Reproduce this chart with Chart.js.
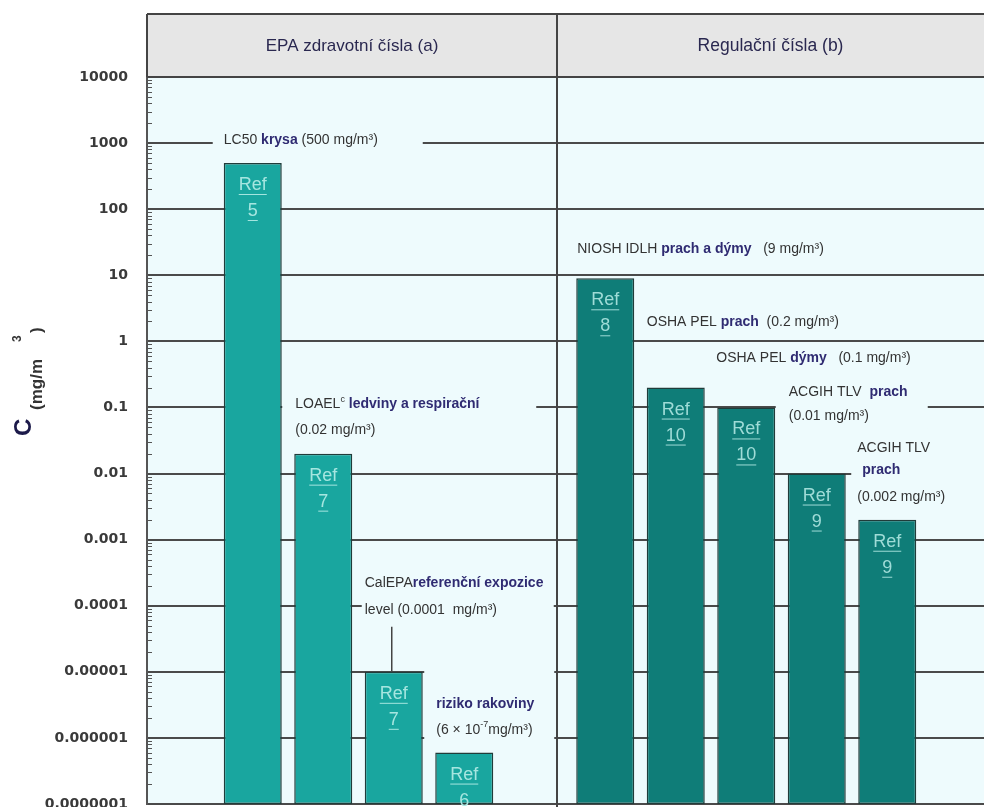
<!DOCTYPE html>
<html>
<head>
<meta charset="utf-8">
<script src="https://cdn.jsdelivr.net/npm/chart.js@4.4.1/dist/chart.umd.min.js"></script>
<style>
html,body{margin:0;padding:0;background:#fff;overflow:hidden;}
#wrap{width:993px;height:807px;}
</style>
</head>
<body>
<div id="wrap"><canvas id="graf" width="993" height="807"></canvas></div>
<script>

/* data */
let slots = ["", "LC50", "LOAEL", "CalEPA", "riziko", "", "NIOSH IDLH", "OSHA PEL prach", "OSHA PEL dýmy", "ACGIH TLV prach", "ACGIH TLV prach 2", ""];
let values = [null, 500, 0.02, 0.00001, 0.0000006, null, 9, 0.2, 0.1, 0.01, 0.002, null];
let refNumbers = ["", "5", "7", "7", "6", "", "8", "10", "10", "9", "9", ""];
let groupOf = [0, 0, 0, 0, 0, 0, 1, 1, 1, 1, 1, 1];
let groupTitles = ["EPA zdravotní čísla (a)", "Regulační čísla (b)"];
let tickValues = [1e-7, 1e-6, 1e-5, 1e-4, 1e-3, 1e-2, 1e-1, 1, 10, 100, 1000, 10000];
let tickLabels = ["0.0000001", "0.000001", "0.00001", "0.0001", "0.001", "0.01", "0.1", "1", "10", "100", "1000", "10000"];

/* popisky: [text, styl]  0 = normal, 1 = tucne, 2 = index nahore */
let noteBars = [1, 2, 3, 4, 6, 7, 8, 9, 10];
let noteAt = [1000, 0.1, 0.0001, 0.000001, 10, 1, 1, 0.1, 0.01];
let noteLines = [
   [[["LC50 ", 0], ["krysa", 1], [" (500 mg/m³)", 0]]],
   [[["LOAEL", 0], ["c", 2], [" ledviny a respirační", 1]], [["(0.02 mg/m³)", 0]]],
   [[["CalEPA", 0], ["referenční expozice", 1]], [["level (0.0001  mg/m³)", 0]]],
   [[["riziko rakoviny", 1]], [["(6 × 10", 0], ["-7", 2], ["mg/m³)", 0]]],
   [[["NIOSH IDLH ", 0], ["prach a dýmy", 1], ["   (9 mg/m³)", 0]]],
   [[["OSHA PEL ", 0], ["prach", 1], ["  (0.2 mg/m³)", 0]]],
   [[["OSHA PEL ", 0], ["dýmy", 1], ["   (0.1 mg/m³)", 0]]],
   [[["ACGIH TLV  ", 0], ["prach", 1]], [["(0.01 mg/m³)", 0]]],
   [[["ACGIH TLV", 0]], [["prach", 1]], [["(0.002 mg/m³)", 0]]]
];

/* rozlozeni popisku (px vuci levemu okraji sloupce a hodnote) */
let noteLayout = [
   { dx: [0], dy: [-3], box: [-11, 199, -14, 8] },
   { dx: [1], dy: [-3, 23], box: [-12, 242, -13, 35] },
   { dx: [0], dy: [-23, 4], box: [-3, 189, -36, 14], leader: true },
   { dx: [1], dy: [-34, -8], box: [-11, 119, -72, 6] },
   { dx: [1], dy: [-26], box: [-4, 265, -38, -14] },
   { dx: [0], dy: [-19], box: [-4, 210, -31, -8] },
   { dx: [-1], dy: [17], box: [-4, 192, 6, 28] },
   { dx: [1], dy: [-15, 9], box: [-12, 140, -27, 21] },
   { dx: [-1, 4, -1], dy: [-25, -3, 24], box: [-7, 140, -37, 36] }
];

const PLOT_BG = "#eefbfd";
const GRID = "#4a4a4a";
const DIVIDER_AT = 5.32;

function drawRuns(ctx, runs, x, y){

   runs.forEach(function(r){

      let txt = r[0];
      let st = r[1];

      if(st === 1){
         ctx.font = "bold 14px 'Liberation Sans'";
         ctx.fillStyle = "#2f2b72";
         ctx.fillText(txt, x, y);
      } else if(st === 2){
         ctx.font = "9px 'Liberation Sans'";
         ctx.fillStyle = "#333";
         ctx.fillText(txt, x, y - 5);
      } else {
         ctx.font = "14px 'Liberation Sans'";
         ctx.fillStyle = "#333";
         ctx.fillText(txt, x, y);
      }

      x += ctx.measureText(txt).width;

   });

}

let decorPlugin = {

   id: "decor",

   beforeDraw(chart){

      let ctx = chart.ctx;
      let a = chart.chartArea;

      ctx.save();
      ctx.fillStyle = "#fff";
      ctx.fillRect(0, 0, chart.width, chart.height);
      ctx.fillStyle = PLOT_BG;
      ctx.fillRect(a.left, a.top, a.right - a.left, a.bottom - a.top);
      ctx.restore();

   },

   beforeDatasetsDraw(chart){

      let ctx = chart.ctx;
      let a = chart.chartArea;
      let y = chart.scales.y;

      /* male znacky na ose */
      ctx.save();
      ctx.strokeStyle = "#555";
      ctx.lineWidth = 1;
      for(let k = -7; k < 4; k++){
         for(let m = 2; m <= 9; m++){
            let py = Math.round(y.getPixelForValue(m * Math.pow(10, k))) + 0.5;
            ctx.beginPath();
            ctx.moveTo(a.left, py);
            ctx.lineTo(a.left + 5, py);
            ctx.stroke();
         }
      }
      ctx.restore();

   },

   afterDatasetsDraw(chart){

      let ctx = chart.ctx;
      let a = chart.chartArea;
      let x = chart.scales.x;
      let y = chart.scales.y;
      let bars = chart.getDatasetMeta(0).data;

      ctx.save();

      /* Ref popisky ve sloupcich */
      ctx.textAlign = "center";
      ctx.textBaseline = "middle";
      ctx.font = "18px 'Liberation Sans'";
      bars.forEach(function(b, i){
         if(!refNumbers[i]) return;
         ctx.fillStyle = groupOf[i] ? "#9fdcd7" : "#a6e6e0";
         ctx.strokeStyle = ctx.fillStyle;
         ctx.lineWidth = 1;
         [["Ref", 22], [refNumbers[i], 48]].forEach(function(t){
            let ty = b.y + t[1];
            ctx.fillText(t[0], b.x, ty);
            let w = ctx.measureText(t[0]).width;
            ctx.beginPath();
            ctx.moveTo(b.x - w / 2, ty + 9.5);
            ctx.lineTo(b.x + w / 2, ty + 9.5);
            ctx.stroke();
         });
      });

      /* popisky s podkladem */
      ctx.textAlign = "left";
      noteBars.forEach(function(bi, n){
         let b = bars[bi];
         let left = b.x - b.width / 2;
         let ay = y.getPixelForValue(noteAt[n]);
         let L = noteLayout[n];
         ctx.fillStyle = PLOT_BG;
         ctx.fillRect(left + L.box[0], ay + L.box[2], L.box[1] - L.box[0], L.box[3] - L.box[2]);
         noteLines[n].forEach(function(line, j){
            let dx = L.dx[j] !== undefined ? L.dx[j] : L.dx[0];
            drawRuns(ctx, line, left + dx, ay + L.dy[j]);
         });
         if(L.leader){
            ctx.strokeStyle = "#444";
            ctx.lineWidth = 1.5;
            ctx.beginPath();
            ctx.moveTo(b.x - 2, ay + 21);
            ctx.lineTo(b.x - 2, b.y);
            ctx.stroke();
         }
      });

      /* zahlavi */
      let divX = Math.round(x.getPixelForValue(DIVIDER_AT));
      let visRight = Math.min(chart.width, document.documentElement.clientWidth);
      ctx.fillStyle = "#e6e6e6";
      ctx.fillRect(a.left, 14, a.right - a.left, a.top - 14);
      ctx.strokeStyle = "#444";
      ctx.lineWidth = 2;
      ctx.beginPath();
      ctx.moveTo(a.left, 14);
      ctx.lineTo(a.right, 14);
      ctx.moveTo(a.left, 14);
      ctx.lineTo(a.left, a.top);
      ctx.moveTo(a.left, a.top);
      ctx.lineTo(a.right, a.top);
      ctx.moveTo(divX, 14);
      ctx.lineTo(divX, chart.height);
      ctx.stroke();

      ctx.fillStyle = "#2a2850";
      ctx.textAlign = "center";
      ctx.font = "17px 'Liberation Sans'";
      ctx.fillText(groupTitles[0], (a.left + divX) / 2, 46);
      ctx.font = "17.5px 'Liberation Sans'";
      ctx.fillText(groupTitles[1], (divX + visRight) / 2, 46);

      /* popis osy y */
      ctx.translate(30, 436);
      ctx.rotate(-Math.PI / 2);
      ctx.textAlign = "left";
      ctx.fillStyle = "#1c1a4a";
      ctx.font = "bold 24px 'Liberation Sans'";
      ctx.fillText("C", 0, -6);
      ctx.fillStyle = "#333";
      ctx.font = "bold 17px 'Liberation Sans'";
      ctx.fillText("(mg/m", 26, 7);
      ctx.font = "bold 12px 'Liberation Sans'";
      ctx.fillText("3", 94, -12);
      ctx.font = "bold 17px 'Liberation Sans'";
      ctx.fillText(")", 103, 7);

      ctx.restore();

   }

};

let ctx = document.getElementById("graf").getContext("2d");

new Chart(ctx, {

   type: "bar",

   data: {
      labels: slots,
      datasets: [{
         data: values,
         backgroundColor: values.map((v, i) => groupOf[i] ? "#0f7d78" : "#19a69f"),
         borderColor: "#203c3a",
         borderWidth: 1.5,
         borderSkipped: false,
         barPercentage: 0.823,
         categoryPercentage: 1
      }]
   },

   options: {

      responsive: false,
      animation: false,

      layout: { padding: { top: 77, bottom: 3, left: 0, right: 0 } },

      plugins: {
         legend: { display: false },
         tooltip: { enabled: false }
      },

      scales: {

         x: { display: false },

         y: {
            type: "logarithmic",
            min: 1e-7,
            max: 1e4,
            afterBuildTicks: function(s){
               s.ticks = tickValues.map(v => ({ value: v }));
            },
            afterFit: function(s){
               s.width = 147;
               /* posledni popisek muze byt oriznuty jako v predloze */
               s.paddingTop = 0;
               s.paddingBottom = 0;
            },
            grid: { color: GRID, lineWidth: 2, drawTicks: false },
            border: { color: "#555", width: 2 },
            ticks: {
               padding: 19,
               color: "#3a3a3a",
               font: { family: "DejaVu Sans", weight: "bold", size: 14 },
               callback: function(v){
                  let i = tickValues.indexOf(v);
                  return i >= 0 ? tickLabels[i] : "";
               }
            }
         }

      }

   },

   plugins: [decorPlugin]

});

</script>
</body>
</html>
